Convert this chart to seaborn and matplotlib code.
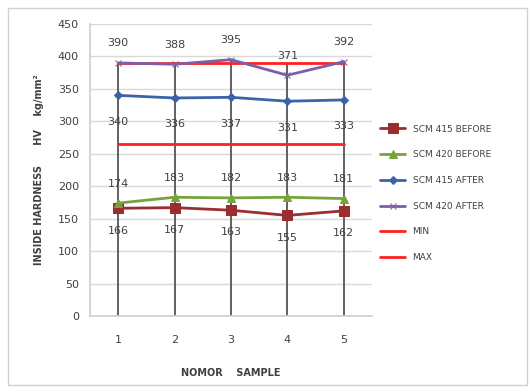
import matplotlib
matplotlib.use("Agg")
import matplotlib.pyplot as plt
import seaborn as sns
import pandas as pd
from matplotlib.patches import Rectangle

samples = [1, 2, 3, 4, 5]
scm415_before = [166, 167, 163, 155, 162]
scm420_before = [174, 183, 182, 183, 181]
scm415_after = [340, 336, 337, 331, 333]
scm420_after = [390, 388, 395, 371, 392]
min_val = [265, 265, 265, 265, 265]
max_val = [390, 390, 390, 390, 390]

sns.set_theme(style="white")
plt.rcParams['font.family'] = ['DejaVu Sans']

fig = plt.figure(figsize=(5.29, 3.87), dpi=100)
fig.patches.append(Rectangle((8/529, 2/387), 519/529, 377/387, transform=fig.transFigure,
                             fill=False, edgecolor="#d0d0d0", lw=1))
ax = fig.add_axes([90/529, 1 - 316/387, (372 - 90)/529, (316 - 24)/387])

pos = list(range(len(samples)))
series = [
    ("SCM 415 BEFORE", scm415_before, "#9b2d30", "s", 6.5, -16),
    ("SCM 420 BEFORE", scm420_before, "#77a33a", "^", 6, 14),
    ("SCM 415 AFTER", scm415_after, "#3b64a8", "D", 4.5, -19),
    ("SCM 420 AFTER", scm420_after, "#7d5fa6", "x", 4, 14),
]

# drop lines
for p in pos:
    ax.plot([p, p], [0, max(scm420_after[p], max_val[p])], color="#555555", lw=1.3, zorder=1)

for name, vals, col, mk, ms, off in series:
    df = pd.DataFrame({"x": pos, "y": vals})
    sns.lineplot(data=df, x="x", y="y", ax=ax, color=col, marker=mk, markersize=ms,
                 markeredgecolor=col, lw=2, label=name, zorder=3)
    for p, v in zip(pos, vals):
        ax.annotate(str(v), (p, v), xytext=(0, off), textcoords="offset points",
                    ha="center", va="center", fontsize=8, color="#404040")

for name, vals in [("MIN", min_val), ("MAX", max_val)]:
    df = pd.DataFrame({"x": pos, "y": vals})
    sns.lineplot(data=df, x="x", y="y", ax=ax, color="#ff2020", lw=2, label=name, zorder=2)

ax.set_xlim(-0.5, 4.5)
ax.set_ylim(0, 450)
ax.set_yticks(range(0, 451, 50))
ax.set_xticks(pos)
ax.set_xticklabels([str(s) for s in samples])
ax.yaxis.grid(True, color="#d9d9d9", lw=1)
ax.set_axisbelow(True)
for s in ["top", "right"]:
    ax.spines[s].set_visible(False)
ax.spines["left"].set_color("#d0d0d0")
ax.spines["bottom"].set_color("#d0d0d0")
ax.tick_params(axis="both", length=0, labelsize=8, colors="#404040")
ax.tick_params(axis="y", pad=8)
ax.tick_params(axis="x", pad=14)
ax.set_xlabel("NOMOR    SAMPLE", fontsize=7, fontweight="bold", color="#404040", labelpad=16)
ax.set_ylabel("INSIDE HARDNESS      HV    kg/mm²", fontsize=7, fontweight="bold", color="#404040", labelpad=10)

ax.legend(loc="center left", bbox_to_anchor=(1.0, 0.42), frameon=False, fontsize=6.5,
          handlelength=2.8, labelspacing=1.85, labelcolor="#404040")

fig.savefig("out.png", dpi=100)
